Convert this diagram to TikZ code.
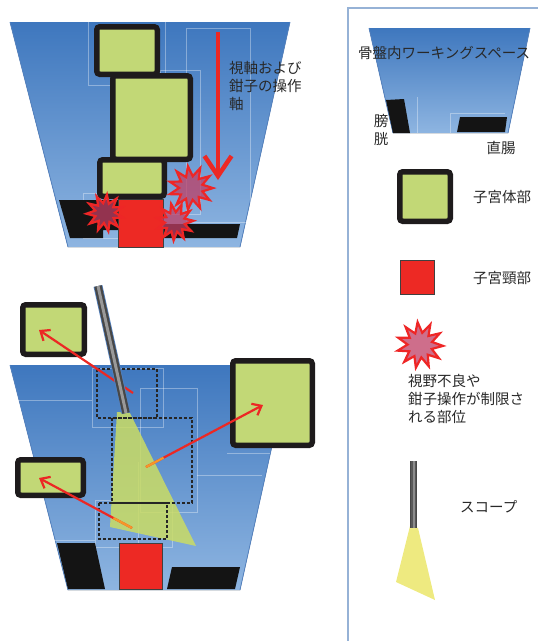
\documentclass[tikz,border=0pt]{standalone}
\usepackage{fontspec}
\setmainfont{Noto Sans CJK JP}
\usetikzlibrary{positioning,shapes.geometric,arrows.meta,calc}
\definecolor{pelvistop}{RGB}{62,119,190}
\definecolor{pelvisbot}{RGB}{142,181,225}
\definecolor{pelvisline}{RGB}{84,130,192}
\definecolor{bodygreen}{RGB}{194,216,118}
\definecolor{bodyblack}{RGB}{30,27,28}
\definecolor{cervixred}{RGB}{237,41,36}
\definecolor{burstred}{RGB}{238,38,38}
\definecolor{burstfill}{RGB}{190,62,100}
\definecolor{arrowred}{RGB}{236,40,36}
\definecolor{arrowamber}{RGB}{247,150,40}
\definecolor{beamgreen}{RGB}{202,220,100}
\definecolor{beamyellow}{RGB}{238,234,128}
\definecolor{panelline}{RGB}{150,178,214}
\definecolor{labelgray}{RGB}{40,40,40}
\tikzset{
  pelvis/.style={top color=pelvistop, bottom color=pelvisbot},
  pelvisedge/.style={draw=pelvisline, line width=0.8pt},
  frame/.style={draw=white, opacity=0.35, line width=0.6pt},
  organ/.style={fill=black!92},
  uterus/.style={draw=bodyblack, line width=5.5pt, rounded corners=3pt, fill=bodygreen, inner sep=0pt},
  cervix/.style={draw=black!75, line width=0.7pt, fill=cervixred, inner sep=0pt},
  burst/.style={star, star points=11, star point ratio=1.85, draw=burstred, line width=2.2pt, fill=burstfill, fill opacity=0.75, inner sep=0pt},
  moved/.style={draw=black!85, line width=1.1pt, dash pattern=on 3pt off 2pt},
  beam/.style={fill=beamgreen, fill opacity=0.85},
  rod/.style={line width=9pt, draw=pelvisline, postaction={draw=black!72, line width=7.5pt}, postaction={draw=black!40, line width=3pt}},
  axis/.style={-{Straight Barb[length=20pt,width=27pt]}, draw=arrowred, line width=4.5pt},
  pointer/.style={-{Straight Barb[length=8pt,width=13pt]}, draw=arrowred, line width=2.2pt},
  pointertail/.style={draw=arrowamber, line width=2.2pt},
  label/.style={font=\fontsize{14.5}{18}\selectfont, text=labelgray, align=left, inner sep=0pt}
}

\begin{document}
\begin{tikzpicture}[x=1pt, y=-1pt]
  \useasboundingbox (0,0) rectangle (538,641);

  % upper panel: pelvis with organs in place
  \fill[pelvis] (10,22) -- (290,22) -- (240,247) -- (68,247) -- cycle;
  \draw[pelvisedge] (10,22) -- (68,247) (290,22) -- (240,247);
  \draw[frame] (186,28) rectangle (250,222);
  \draw[frame] (88,21) rectangle (165,85);
  \draw[frame] (160,70) rectangle (200,214);
  \draw[frame] (83,193) rectangle (118,238);
  \fill[organ] (59,200) -- (118,200) -- (118,230) -- (103,230) -- (103,238) -- (70,238) -- cycle;
  \fill[organ] (163,224) -- (240,224) -- (237,238) -- (163,238) -- cycle;
  \node[cervix, minimum width=45pt, minimum height=48pt] (cx1) at (140.5,223) {};

  \node[uterus, minimum width=77.5pt, minimum height=83.5pt] (ub) at (151.5,117.5) {};
  \node[uterus, minimum width=60.5pt, minimum height=47.5pt] (ua) at (127,50.5) {};
  \node[uterus, minimum width=64.5pt, minimum height=36.5pt] (uc) at (132,178) {};

  \node[burst, minimum size=44pt, rotate=8] (ba) at (191,188) {};
  \node[burst, minimum size=37pt, rotate=-6] (bb) at (105,213) {};
  \node[burst, minimum size=37pt, rotate=12] (bc) at (175,222) {};

  \coordinate (axtop) at (218,32);
  \coordinate (axtip) at (218,180);
  \draw[axis] (axtop) -- (axtip);
  \node[label, anchor=north west] (axtext) at (229,61) {視軸および\\鉗子の操作\\軸};

  % lower panel: uterus drawn aside, scope in view
  \fill[pelvis] (10,365) -- (290,365) -- (240,590) -- (68,590) -- cycle;
  \draw[pelvisedge] (10,365) -- (68,590) (290,365) -- (240,590);
  \draw[frame] (92,368) rectangle (163,427);
  \draw[frame] (10,400) -- (92,400);
  \draw[frame] (140,388) rectangle (197,512);
  \draw[frame] (95,500) rectangle (172,547);
  \draw[frame] (197,475) -- (262,475);
  \draw[frame] (227,453) -- (270,453);
  \draw[frame] (138,462) -- (138,590);
  \draw[frame] (48,540) -- (95,540);
  \fill[organ] (57,543) -- (95,543) -- (105,589) -- (68,589) -- cycle;
  \fill[organ] (172,567) -- (240,567) -- (235,589) -- (167,589) -- cycle;
  \node[cervix, minimum width=43pt, minimum height=46pt] (cx2) at (140.5,566) {};

  \fill[beam] (117,412) -- (130,413) -- (196,546) -- (110,527) -- cycle;
  \draw[moved] (97,369) rectangle (157,418);
  \draw[moved] (112,418) rectangle (192,503);
  \draw[moved] (99,503) rectangle (167,539);

  \node[uterus, minimum width=61.5pt, minimum height=49.5pt] (ud) at (53.5,329.5) {};
  \node[uterus, minimum width=79.5pt, minimum height=84.5pt] (ue) at (272.5,403) {};
  \node[uterus, minimum width=65.5pt, minimum height=35.5pt] (uf) at (50.5,477.5) {};

  \coordinate (pa) at (133,393);
  \coordinate (pb) at (146,467);
  \coordinate (pc) at (132,528);
  \coordinate (pd) at (39,330);
  \coordinate (pe) at (263,405);
  \coordinate (pf) at (39,478);
  \draw[pointer] (pa) -- (pd);
  \draw[pointer] (pb) -- (pe);
  \draw[pointer] (pc) -- (pf);
  \draw[pointertail] (pb) -- ($(pb)!0.15!(pe)$);
  \draw[pointertail] (pc) -- ($(pc)!0.2!(pf)$);

  \coordinate (rodtop) at (98,286);
  \coordinate (rodtip) at (126,413);
  \draw[rod] (rodtop) -- (rodtip);

  % legend
  \draw[panelline, line width=1.2pt] (540,8) -- (348,8) -- (348,645);
  \fill[pelvis] (369,28) -- (530,28) -- (508,133) -- (393,133) -- cycle;
  \draw[pelvisedge] (369,28) -- (393,133) (530,28) -- (508,133);
  \draw[frame] (417,97) -- (417,133);
  \draw[frame] (450,133) -- (450,113) -- (505,113);
  \fill[organ] (386,100) -- (404,99) -- (410,133) -- (393,133) -- cycle;
  \fill[organ] (460,117) -- (507,117) -- (505,132) -- (457,132) -- cycle;
  \node[label, anchor=west] (space) at (358,53) {骨盤内ワーキングスペース};
  \node[label, align=center] (bladder) at (381,130) {膀\\胱};
  \node[label] (rectum) at (501,148) {直腸};

  \node[uterus, minimum width=50.5pt, minimum height=49.5pt] (key1) at (425,196.5) {};
  \node[label, anchor=west] (key1text) at (473,197) {子宮体部};
  \node[cervix, minimum width=34pt, minimum height=34pt] (key2) at (417,277) {};
  \node[label, anchor=west] (key2text) at (473,278) {子宮頸部};
  \node[burst, minimum size=46pt, rotate=6] (key3) at (420,345) {};
  \node[label, anchor=north west] (key3text) at (408,374) {視野不良や\\鉗子操作が制限さ\\れる部位};

  \coordinate (keyrodtop) at (413.5,461);
  \coordinate (keyrodtip) at (413.5,528);
  \fill[fill=beamyellow] (410,526) -- (418,528) -- (435,600) -- (396,582) -- cycle;
  \draw[rod, line width=7pt, postaction={draw=black!65, line width=5.5pt}, postaction={draw=black!45, line width=2pt}] (keyrodtop) -- (keyrodtip);
  \node[label, anchor=west] (key4text) at (460,507) {スコープ};
\end{tikzpicture}
\end{document}
